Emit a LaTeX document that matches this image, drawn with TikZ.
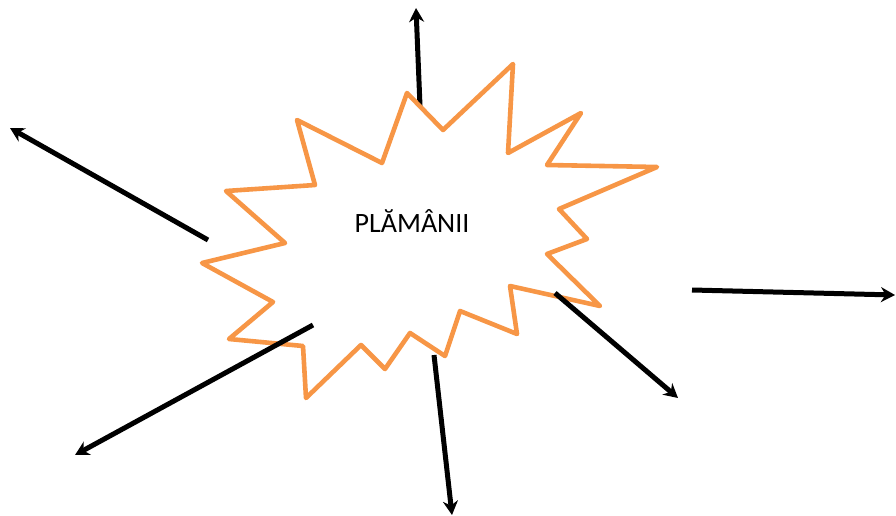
\documentclass[tikz,border=0pt]{standalone}
\usepackage{fontspec}
\setmainfont{Carlito}
\usetikzlibrary{arrows.meta}
\definecolor{burstorange}{RGB}{247,150,70}

\begin{document}
\begin{tikzpicture}[
  x=1pt,y=-1pt,
  burst/.style={draw=burstorange,line width=4.6pt,line join=round,fill=white},
  arr/.style={-{Stealth[length=14pt,width=15pt,inset=4.5pt]},line width=5pt,draw=black},
  label/.style={font=\fontsize{28}{32}\selectfont,anchor=base}]

  \useasboundingbox (0,0) rectangle (896,516);

  % arrow ends
  \coordinate (upS) at (420,106);   \coordinate (upE) at (416,8);
  \coordinate (ulS) at (208,240);   \coordinate (ulE) at (10,128);
  \coordinate (rS) at (692,290);    \coordinate (rE) at (895,295);
  \coordinate (lrS) at (555,293);   \coordinate (lrE) at (678,398);
  \coordinate (dS) at (434,355);    \coordinate (dE) at (452,515);
  \coordinate (llS) at (313,325);   \coordinate (llE) at (75,455);

  \draw[arr] (upS) -- (upE);
  \draw[arr] (ulS) -- (ulE);
  \draw[arr] (rS) -- (rE);

  % the burst
  \draw[burst] (226,191) -- (315,185) -- (297,120) -- (382,163) -- (407,93)
    -- (443,130) -- (513,64) -- (508,153) -- (581,113) -- (547,165)
    -- (657,167) -- (559,209) -- (587,239) -- (547,254) -- (600,306)
    -- (510,286) -- (517,334) -- (460,311) -- (445,356) -- (410,333)
    -- (385,369) -- (361,345) -- (306,398) -- (303,346) -- (229,339)
    -- (273,302) -- (202,263) -- (285,243) -- cycle;

  \draw[arr] (lrS) -- (lrE);
  \draw[arr] (dS) -- (dE);
  \draw[arr] (llS) -- (llE);

  \node[label] (lung) at (412,232) {PLĂMÂNII};

\end{tikzpicture}
\end{document}
